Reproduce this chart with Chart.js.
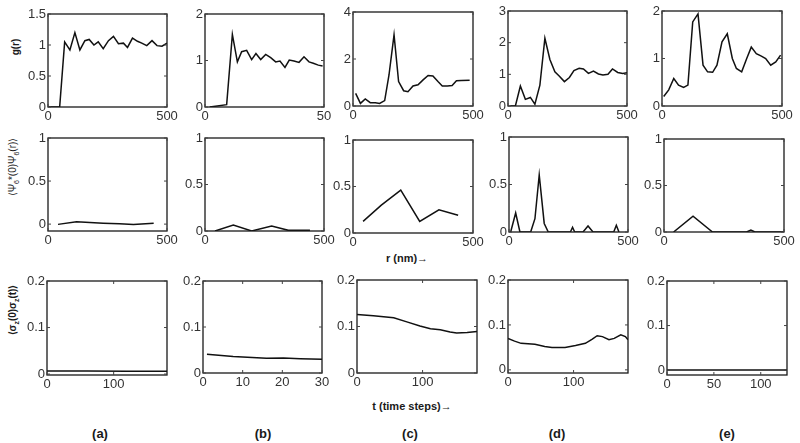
<!DOCTYPE html>
<html><head><meta charset="utf-8">
<script src="https://cdn.jsdelivr.net/npm/chart.js@4"></script>
<style>
body{margin:0;background:#fff;width:800px;height:443px;position:relative;overflow:hidden;font-family:"Liberation Sans",Arial,sans-serif;}
.lbl{position:absolute;transform:translate(-50%,-50%);white-space:nowrap;color:#1a1a1a;}
.rot{transform:translate(-50%,-50%) rotate(-90deg);}
.b{font-weight:bold;}
sub{font-size:70%;}
</style></head><body>
<div class="lbl rot b" style="left:15px;top:47px;font-size:10px;">g(r)</div>
<div class="lbl rot" style="left:13px;top:167px;font-size:10px;">⟨Ψ<sub>6</sub>*(0)Ψ<sub>6</sub>(r)⟩</div>
<div class="lbl rot b" style="left:13px;top:310px;font-size:10px;">⟨σ<sub>z</sub>(0)σ<sub>z</sub>(t)⟩</div>
<div class="lbl b" style="left:407px;top:258px;font-size:11px;">r (nm)→</div>
<div class="lbl b" style="left:412px;top:406px;font-size:11px;">t (time steps)→</div>
<div class="lbl b" style="left:100px;top:433px;font-size:13px;">(a)</div>
<div class="lbl b" style="left:263px;top:433px;font-size:13px;">(b)</div>
<div class="lbl b" style="left:410px;top:433px;font-size:13px;">(c)</div>
<div class="lbl b" style="left:557px;top:433px;font-size:13px;">(d)</div>
<div class="lbl b" style="left:727px;top:433px;font-size:13px;">(e)</div>
<script>
// ---- Row 1: g(r) ----
const gA_r = [0, 49, 70, 92, 113, 134, 155, 173, 193, 211, 232, 254, 275, 296, 317, 334, 355, 376, 394, 415, 437, 458, 479, 500];
const gA_v = [0, 0, 1.05, 0.92, 1.2, 0.92, 1.07, 1.09, 1.0, 1.05, 0.94, 1.07, 1.14, 1.02, 1.03, 0.96, 1.11, 1.06, 1.03, 0.99, 1.07, 0.99, 0.98, 1.03];
const gB_r = [2, 9.1, 11.5, 13.6, 15.4, 17.5, 19.6, 21.4, 23.4, 25.5, 27.6, 29.7, 31.5, 33.6, 35.4, 37.4, 39.5, 41.6, 43.7, 45.5, 47.6, 49.4];
const gB_v = [0, 0.05, 1.56, 0.97, 1.19, 1.22, 1.02, 1.15, 1.02, 1.13, 1.06, 0.97, 0.99, 0.85, 1.01, 0.99, 0.96, 1.08, 0.97, 0.94, 0.9, 0.88];
const gC_r = [11, 31, 51, 72, 93, 111, 132, 150, 171, 190, 211, 229, 250, 271, 292, 313, 333, 354, 372, 393, 413, 431, 451, 486];
const gC_v = [0.54, 0.11, 0.3, 0.14, 0.14, 0.11, 0.23, 1.32, 3.03, 1.04, 0.65, 0.61, 0.85, 0.9, 1.11, 1.3, 1.28, 1.04, 0.85, 0.85, 0.87, 1.07, 1.08, 1.1];
const gD_r = [10, 31, 52, 73, 94, 113, 134, 155, 176, 197, 215, 237, 258, 277, 299, 317, 338, 359, 380, 399, 420, 439, 461, 482, 500];
const gD_v = [0, 0, 0.63, 0.21, 0.27, 0.06, 0.66, 2.14, 1.47, 1.08, 0.95, 0.77, 0.9, 1.12, 1.19, 1.17, 1.03, 1.1, 1.01, 0.98, 1.0, 1.17, 1.06, 1.03, 1.05];
const gE_r = [7, 28, 49, 69, 90, 108, 128, 150, 171, 190, 211, 229, 250, 272, 293, 310, 332, 353, 372, 393, 414, 432, 453, 474, 494];
const gE_v = [0.2, 0.34, 0.58, 0.44, 0.39, 0.44, 1.77, 1.94, 0.86, 0.72, 0.71, 0.86, 1.35, 1.52, 1.0, 0.79, 0.72, 1.0, 1.24, 1.1, 1.05, 1.0, 0.86, 0.93, 1.07];
// ---- Row 2: <Psi6*(0) Psi6(r)> ----
const pA_r = [42, 120, 232, 300, 359, 444];
const pA_v = [-0.003, 0.028, 0.01, 0.003, -0.005, 0.01];
const pB_r = [42, 119, 196, 280, 350, 441];
const pB_v = [0, 0.065, 0, 0.054, 0.007, 0.007];
const pC_r = [42, 118, 199, 278, 358, 438];
const pC_v = [0.125, 0.3, 0.46, 0.125, 0.25, 0.19];
const pD_r = [7, 28, 46, 91, 109, 127, 148, 165, 258, 267, 276, 311, 332, 353, 440, 451, 462];
const pD_v = [0, 0.2, 0, 0, 0.14, 0.6, 0.09, 0, 0, 0.05, 0, 0, 0.064, 0, 0, 0.07, 0];
const pE_r = [40, 121, 202, 344, 362, 379, 497];
const pE_v = [0, 0.17, 0, 0, 0.02, 0, 0];
// ---- Row 3: <sigma_z(0) sigma_z(t)> ----
const sA_t = [0, 60, 120, 180];
const sA_v = [0.0065, 0.0064, 0.0063, 0.0062];
const sB_t = [1, 7.6, 16, 20.3, 24.5, 30];
const sB_v = [0.0406, 0.036, 0.032, 0.0326, 0.031, 0.0297];
const sC_t = [0, 25, 56, 76, 96, 112, 127, 142, 152, 168, 183];
const sC_v = [0.126, 0.123, 0.119, 0.11, 0.101, 0.095, 0.093, 0.088, 0.086, 0.087, 0.089];
const sD_t = [0, 10, 20, 41, 56, 67, 87, 103, 118, 128, 136, 144, 154, 162, 172, 179, 183];
const sD_v = [0.070, 0.064, 0.059, 0.057, 0.052, 0.050, 0.050, 0.054, 0.059, 0.068, 0.076, 0.074, 0.067, 0.070, 0.078, 0.074, 0.067];
const sE_t = [0, 128];
const sE_v = [0, 0];
// ---- tick labels ----
const xTicks500 = [0, 500];
const xTicks50 = [0, 50];
const yTicksGA = [0, 0.5, 1, 1.5];
const yTicksGB = [0, 1, 2];
const yTicksGC = [0, 2, 4];
const yTicksGD = [0, 1, 2, 3];
const yTicksGE = [0, 1, 2];
const yTicksP = [0, 0.5, 1];
const yTicksS = [0, 0.1, 0.2];
const xTicksS180 = [0, 100];
const xTicksS30 = [0, 10, 20, 30];
const xTicksS128 = [0, 50, 100];

// ---- panel layout (boxes in page pixels) ----
const panels = [
  {box:[48,14,167,107],  x:gA_r, y:gA_v, xr:[0,500], yr:[0,1.5], xt:xTicks500, yt:yTicksGA},
  {box:[205,14,324,107], x:gB_r, y:gB_v, xr:[0,50],  yr:[0,2],   xt:xTicks50,  yt:yTicksGB},
  {box:[353,12,473,106], x:gC_r, y:gC_v, xr:[0,500], yr:[0,4],   xt:xTicks500, yt:yTicksGC},
  {box:[508,11,627,106], x:gD_r, y:gD_v, xr:[0,500], yr:[0,3],   xt:xTicks500, yt:yTicksGD},
  {box:[662,11,782,106], x:gE_r, y:gE_v, xr:[0,500], yr:[0,2],   xt:xTicks500, yt:yTicksGE},

  {box:[48,138,167,231],  x:pA_r, y:pA_v, xr:[0,500], yr:[-0.08,1], xt:xTicks500, yt:yTicksP},
  {box:[205,138,324,231], x:pB_r, y:pB_v, xr:[0,500], yr:[0,1],     xt:xTicks500, yt:yTicksP},
  {box:[353,140,473,233], x:pC_r, y:pC_v, xr:[0,500], yr:[0,1],     xt:xTicks500, yt:yTicksP},
  {box:[509,137,628,232], x:pD_r, y:pD_v, xr:[0,500], yr:[0,1],     xt:xTicks500, yt:yTicksP},
  {box:[664,139,784,232], x:pE_r, y:pE_v, xr:[0,500], yr:[0,1],     xt:xTicks500, yt:yTicksP},

  {box:[47,281,167,375],  x:sA_t, y:sA_v, xr:[0,180], yr:[-0.002,0.2], xt:xTicksS180, yt:yTicksS},
  {box:[203,281,322,373], x:sB_t, y:sB_v, xr:[0,30],  yr:[0,0.2],      xt:xTicksS30,  yt:yTicksS},
  {box:[357,280,477,373], x:sC_t, y:sC_v, xr:[0,183], yr:[0,0.2],      xt:xTicksS180, yt:yTicksS},
  {box:[508,280,628,373], x:sD_t, y:sD_v, xr:[0,183], yr:[-0.007,0.2], xt:xTicksS180, yt:yTicksS},
  {box:[667,281,787,375], x:sE_t, y:sE_v, xr:[0,128], yr:[-0.011,0.2], xt:xTicksS128, yt:yTicksS}
];

const boxPlugin = {
  id: 'boxframe',
  afterDatasetsDraw(chart) {
    const {ctx, chartArea: a, scales} = chart;
    ctx.save();
    ctx.strokeStyle = '#1a1a1a';
    ctx.lineWidth = 1.3;
    ctx.strokeRect(a.left, a.top, a.right - a.left, a.bottom - a.top);
    ctx.lineWidth = 1;
    ctx.strokeStyle = '#444';
    ctx.beginPath();
    scales.x.ticks.forEach(t => {
      const px = scales.x.getPixelForValue(t.value);
      ctx.moveTo(px, a.bottom); ctx.lineTo(px, a.bottom - 3);
      ctx.moveTo(px, a.top); ctx.lineTo(px, a.top + 3);
    });
    scales.y.ticks.forEach(t => {
      const py = scales.y.getPixelForValue(t.value);
      ctx.moveTo(a.left, py); ctx.lineTo(a.left + 3, py);
      ctx.moveTo(a.right, py); ctx.lineTo(a.right - 3, py);
    });
    ctx.stroke();
    ctx.restore();
  }
};

const PADL = 44, PADT = 10, PADR = 18, PADB = 22;
const tickFont = {family: '"Liberation Sans", Arial, sans-serif', size: 13};
const fmt = v => String(Math.round(v * 1000) / 1000);

panels.forEach(p => {
  const W = p.box[2] - p.box[0], H = p.box[3] - p.box[1];
  const c = document.createElement('canvas');
  c.width = W + PADL + PADR; c.height = H + PADT + PADB;
  c.style.position = 'absolute';
  c.style.left = (p.box[0] - PADL) + 'px';
  c.style.top = (p.box[1] - PADT) + 'px';
  c.style.width = c.width + 'px'; c.style.height = c.height + 'px';
  document.body.appendChild(c);
  new Chart(c, {
    type: 'line',
    data: {datasets: [{
      data: p.x.map((v, i) => ({x: v, y: p.y[i]})),
      borderColor: '#111', borderWidth: 1.5, pointRadius: 0, fill: false, tension: 0
    }]},
    options: {
      responsive: false, animation: false, events: [],
      layout: {padding: {left: 0, top: PADT, right: PADR, bottom: 0}},
      plugins: {legend: {display: false}, tooltip: {enabled: false}},
      scales: {
        x: {
          type: 'linear', min: p.xr[0], max: p.xr[1],
          afterBuildTicks: s => { s.ticks = p.xt.map(v => ({value: v})); },
          afterFit: s => { s.height = PADB; },
          grid: {display: false, drawTicks: false}, border: {display: false},
          ticks: {color: '#333', font: tickFont, padding: 2, maxRotation: 0, autoSkip: false, callback: fmt}
        },
        y: {
          type: 'linear', min: p.yr[0], max: p.yr[1],
          afterBuildTicks: s => { s.ticks = p.yt.map(v => ({value: v})); },
          afterFit: s => { s.width = PADL; },
          grid: {display: false, drawTicks: false}, border: {display: false},
          ticks: {color: '#333', font: tickFont, padding: 2, autoSkip: false, callback: fmt}
        }
      }
    },
    plugins: [boxPlugin]
  });
});
</script>
</body></html>
